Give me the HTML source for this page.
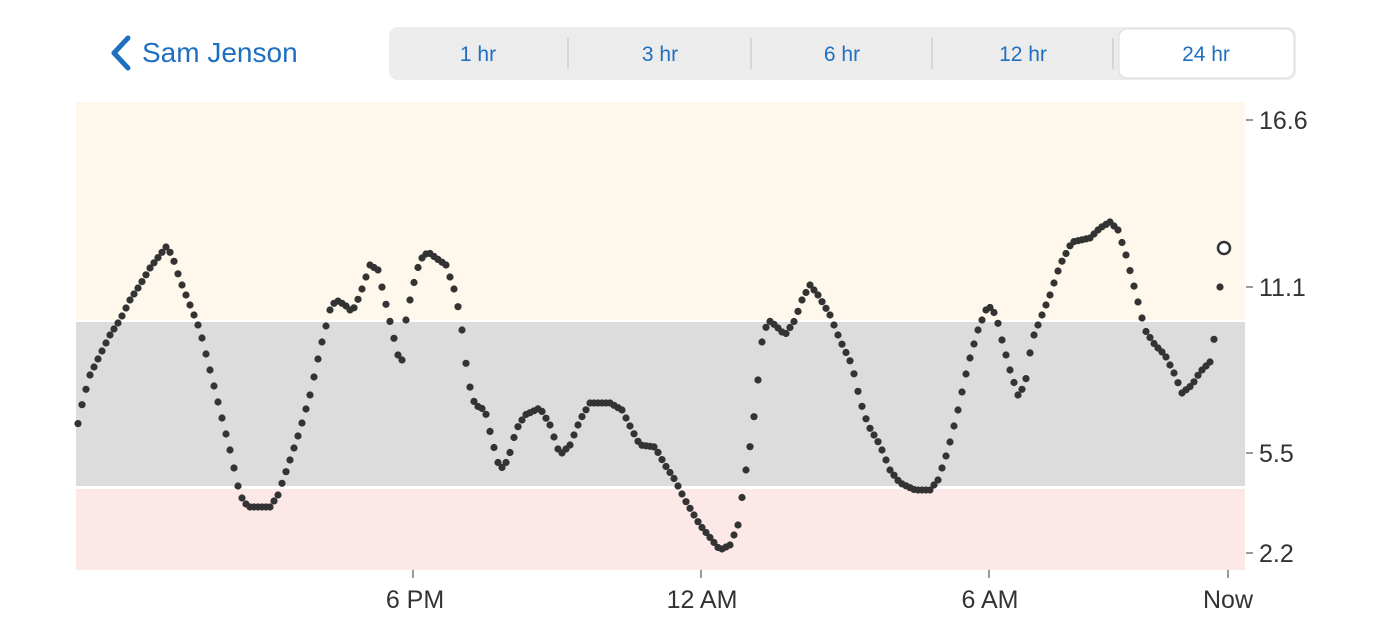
<!DOCTYPE html>
<html><head><meta charset="utf-8"><style>
body{margin:0;width:1400px;height:622px;background:#fff;overflow:hidden;font-family:"Liberation Sans",sans-serif}
</style></head><body>
<svg width="1400" height="622" xmlns="http://www.w3.org/2000/svg" style="position:absolute;left:0;top:0">
<path d="M128 38 L114 53 L128 68" fill="none" stroke="#1f6fc1" stroke-width="5" stroke-linecap="round" stroke-linejoin="round"/>
<text x="142" y="62" font-size="28" fill="#1f6fc1">Sam Jenson</text>
<rect x="389" y="27" width="907" height="53" rx="9" fill="#ececec"/>
<rect x="1119" y="29" width="175" height="49" rx="8" fill="#fff" stroke="#dcdcdc"/>
<g stroke="#cfcfcf" stroke-width="1.5"><line x1="568" y1="38" x2="568" y2="69"/><line x1="751" y1="38" x2="751" y2="69"/><line x1="932" y1="38" x2="932" y2="69"/><line x1="1113" y1="38" x2="1113" y2="69"/></g>
<g font-size="21" fill="#1f6fc1" text-anchor="middle"><text x="478" y="61">1 hr</text><text x="660" y="61">3 hr</text><text x="842" y="61">6 hr</text><text x="1023" y="61">12 hr</text><text x="1206" y="61">24 hr</text></g>
<rect x="76" y="102" width="1169" height="218" fill="#fef8ec"/>
<rect x="76" y="322" width="1169" height="164" fill="#dcdcdc"/>
<rect x="76" y="489" width="1169" height="81" fill="#fde8e8"/>
<g stroke="#777" stroke-width="1.5"><line x1="1246" y1="120" x2="1253" y2="120"/><line x1="1246" y1="287" x2="1253" y2="287"/><line x1="1246" y1="453" x2="1253" y2="453"/><line x1="1246" y1="553" x2="1253" y2="553"/>
<line x1="413" y1="570" x2="413" y2="578"/><line x1="701" y1="570" x2="701" y2="578"/><line x1="989" y1="570" x2="989" y2="578"/><line x1="1228" y1="570" x2="1228" y2="578"/></g>
<g font-size="25" fill="#333"><text x="1259" y="129">16.6</text><text x="1259" y="296">11.1</text><text x="1259" y="462">5.5</text><text x="1259" y="562">2.2</text></g>
<g font-size="25" fill="#333" text-anchor="middle"><text x="415" y="608">6 PM</text><text x="702" y="608">12 AM</text><text x="990" y="608">6 AM</text><text x="1228" y="608">Now</text></g>
<g id="dots" fill="#333"></g>
<circle cx="1220" cy="287" r="3.6" fill="#333"/>
<circle cx="1224" cy="248" r="6" fill="#fff" stroke="#333" stroke-width="2.5"/>
</svg>
<script>
var p=[76,433,83,400,90,375,100,355,110,335,120,320,130,300,140,285,150,268,160,255,166,247,172,255,180,280,190,305,200,330,210,370,220,410,230,450,240,495,248,507,270,507,278,495,290,460,300,430,310,395,320,350,330,310,336,300,345,305,352,312,360,295,370,265,378,270,385,300,392,330,398,355,402,360,406,320,412,290,420,260,428,252,436,258,446,265,456,295,462,330,468,380,475,405,485,410,492,440,500,470,508,460,516,430,525,415,540,408,550,425,560,455,570,445,580,420,590,403,610,403,622,410,632,430,640,445,655,447,665,465,675,480,685,500,700,525,720,550,730,545,738,525,746,470,752,435,758,380,762,342,768,320,775,325,785,335,795,320,802,300,810,285,818,295,830,315,840,340,852,365,860,400,868,425,880,445,890,470,900,483,915,490,930,490,938,480,948,450,958,410,968,365,978,330,988,305,996,315,1002,340,1010,370,1018,395,1025,385,1032,340,1042,315,1050,295,1060,265,1072,242,1090,238,1100,228,1110,222,1118,230,1126,255,1135,290,1145,330,1155,345,1165,355,1175,375,1182,393,1192,385,1200,372,1210,362,1216,328];
var g=document.getElementById('dots'),s='';
for(var x=78;x<=1216;x+=4){for(var i=0;i<p.length-2;i+=2){if(x>=p[i]&&x<=p[i+2]){var t=(x-p[i])/(p[i+2]-p[i]);var y=p[i+1]+t*(p[i+3]-p[i+1]);s+='<circle cx="'+x+'" cy="'+y.toFixed(1)+'" r="3.6"/>';break;}}}
g.innerHTML=s;
</script>
</body></html>
